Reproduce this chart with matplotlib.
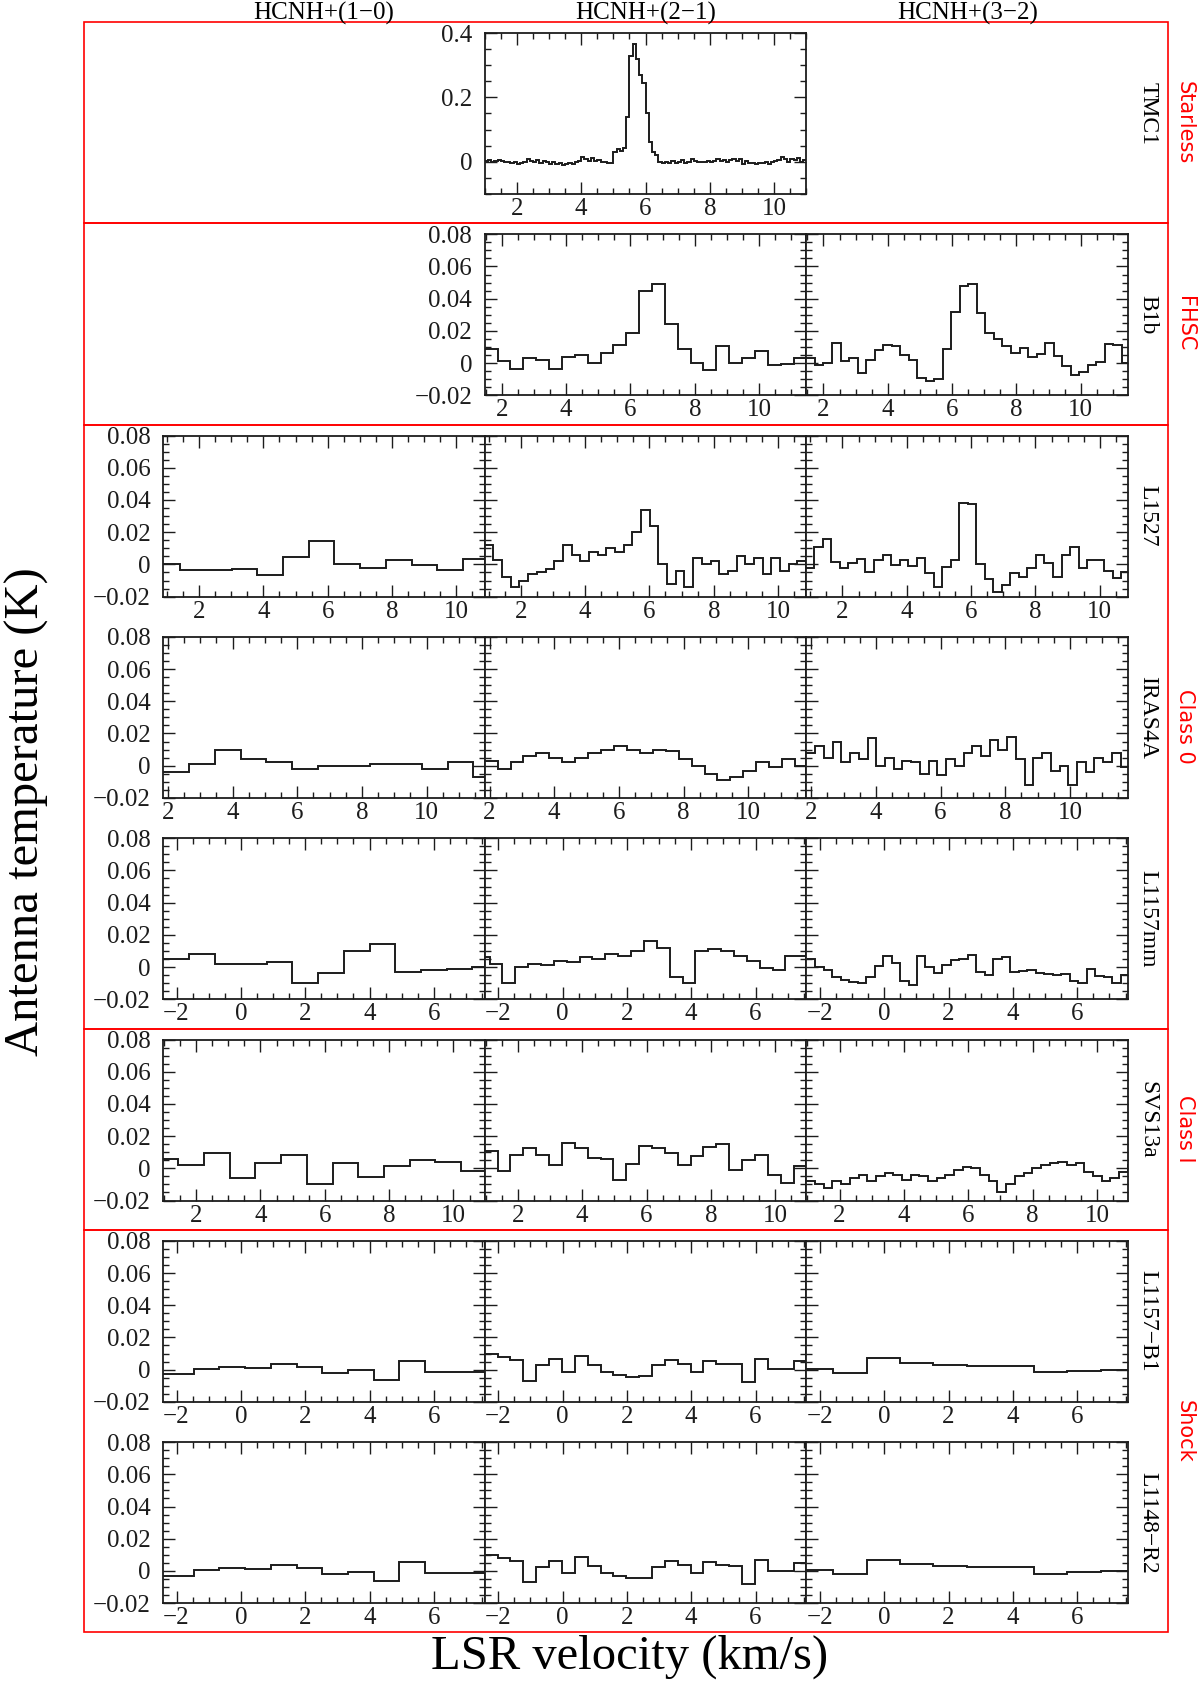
import matplotlib.pyplot as plt
import numpy as np
from matplotlib.patches import Rectangle
from matplotlib.ticker import MultipleLocator, FuncFormatter

plt.rcParams['font.family'] = ['Liberation Serif', 'DejaVu Serif']

W, H = 1200, 1684

lines = ['HCNH+(1\u22120)', 'HCNH+(2\u22121)', 'HCNH+(3\u22122)']
sources = ['TMC1', 'B1b', 'L1527', 'IRAS4A', 'L1157mm', 'SVS13a',
           'L1157\u2212B1', 'L1148\u2212R2']
groups = [('Starless', 0, 1), ('FHSC', 1, 2), ('Class 0', 2, 5),
          ('Class I', 5, 6), ('Shock', 6, 8)]
xlims = [(1.0, 11.0), (1.47, 11.47), (0.88, 10.88), (1.85, 11.8),
         (-2.42, 7.58), (0.97, 10.97), (-2.42, 7.58), (-2.42, 7.58)]

# spectra: first channel edge, channel width (km/s), then T (K) per channel
tmc1_21 = (1.0, 0.1, [
    0.002, 0.005, -0.002, 0.002, 0.007, 0.002, 0.0, -0.002, -0.005, 0.0,
    -0.007, -0.003, 0.0, 0.01, 0.002, -0.002, 0.005, -0.003, 0.003, 0.0,
    -0.007, -0.002, -0.007, -0.003, -0.01, -0.008, -0.005, -0.007, -0.002, 0.003,
    0.015, 0.01, 0.002, 0.012, 0.002, 0.007, 0.0, -0.002, -0.005, -0.003,
    0.03, 0.04, 0.035, 0.042, 0.14, 0.33, 0.365, 0.32, 0.27, 0.245,
    0.15, 0.06, 0.03, 0.02, 0.0, -0.005, 0.0, -0.005, 0.002, -0.005,
    0.0, 0.005, -0.003, 0.0, 0.01, 0.003, 0.0, -0.002, 0.0, 0.003,
    -0.002, 0.002, 0.008, 0.003, 0.005, 0.0, 0.006, 0.01, 0.003, 0.01,
    -0.008, 0.002, -0.005, -0.003, -0.006, -0.005, -0.003, -0.001, -0.006, 0.0,
    0.002, 0.005, 0.015, 0.008, 0.0, 0.01, 0.005, 0.012, 0.0, 0.005])

b1b_21 = (1.47, 0.4, [
    0.0085, 0.001, -0.0035, 0.003, 0.002, -0.0035, 0.004, 0.005, 0.0, 0.0065,
    0.011, 0.019, 0.0445, 0.049, 0.024, 0.0085, 0.0, -0.004, 0.0105, 0.0,
    0.003, 0.0075, -0.001, -0.0005, 0.003])
b1b_32 = (1.47, 0.265, [
    0.003, -0.001, 0.0, 0.0125, 0.001, 0.003, -0.006, 0.002, 0.008, 0.0115,
    0.0105, 0.005, 0.002, -0.0095, -0.011, -0.01, 0.0085, 0.032, 0.048, 0.049,
    0.031, 0.019, 0.015, 0.0105, 0.006, 0.0095, 0.0035, 0.0055, 0.0125, 0.0045,
    -0.002, -0.0075, -0.0055, -0.001, 0.0006, 0.012, 0.011, 0.0])

l1527_10 = (0.61, 0.8, [
    0.0, -0.0035, -0.0033, -0.003, -0.0065, 0.0045, 0.0145, 0.0005, -0.002,
    0.0025, -0.0002, -0.0033, 0.0033])
l1527_21 = (0.88, 0.27, [
    0.012, 0.003, -0.008, -0.014, -0.01, -0.006, -0.005, -0.003, 0.002,
    0.012, 0.006, 0.002, 0.008, 0.006, 0.01, 0.008, 0.012, 0.02, 0.034,
    0.024, 0.0, -0.012, -0.004, -0.014, 0.004, 0.0, 0.002, -0.006, -0.004,
    0.005, 0.0, 0.004, -0.006, 0.004, -0.004, 0.0, 0.002])
l1527_32 = (0.861, 0.265, [
    -0.002, 0.0108, 0.0156, 0.0015, -0.002, 0.0006, 0.0035, -0.005, 0.003, 0.006,
    -0.0004, 0.0027, -0.001, 0.0037, -0.0056, -0.014, -0.0015, 0.0027, 0.0384, 0.0373,
    0.0004, -0.0093, -0.017, -0.0129, -0.0056, -0.0079, -0.0025, 0.0058, 0.001, -0.0079,
    0.0058, 0.011, -0.0025, 0.0027, 0.0027, -0.004, -0.0087, -0.005])

iras4a_10 = (1.85, 0.8, [
    -0.004, 0.001, 0.01, 0.004, 0.002, -0.002, 0.0, 0.0, 0.001, 0.001,
    -0.002, 0.002, -0.007])
iras4a_21 = (1.85, 0.4, [
    0.003, -0.002, 0.002, 0.006, 0.008, 0.005, 0.002, 0.005, 0.008, 0.01,
    0.012, 0.01, 0.008, 0.01, 0.009, 0.004, 0.0, -0.005, -0.009, -0.007,
    -0.003, 0.002, -0.001, 0.004, 0.0])
iras4a_32 = (1.85, 0.27, [
    0.008, 0.012, 0.005, 0.015, 0.002, 0.008, 0.004, 0.017, 0.0, 0.005,
    -0.002, 0.003, 0.002, -0.005, 0.003, -0.006, 0.004, 0.0, 0.008, 0.012,
    0.006, 0.016, 0.01, 0.018, 0.004, -0.012, 0.005, 0.008, -0.003, 0.0,
    -0.012, 0.002, -0.004, 0.005, 0.002, 0.008, -0.001])

l1157mm_10 = (-3.2, 0.8, [
    0.005, 0.005, 0.008, 0.002, 0.002, 0.003, -0.01, -0.004, 0.01, 0.014,
    -0.003, -0.002, -0.001, 0.0])
l1157mm_21 = (-2.67, 0.4, [
    0.006, 0.002, -0.01, 0.0, 0.002, 0.001, 0.004, 0.003, 0.006, 0.005,
    0.008, 0.007, 0.01, 0.016, 0.012, -0.006, -0.01, 0.01, 0.011, 0.01,
    0.007, 0.0035, -0.0006, -0.002, 0.0066, 0.0066])
l1157mm_32 = (-2.414, 0.264, [
    0.005, -0.0002, -0.002, -0.0062, -0.0079, -0.0093, -0.0099, -0.006, 0.0004, 0.0066,
    0.0025, -0.0085, -0.0114, 0.0068, 0.0, -0.0037, 0.0014, 0.0046, 0.005, 0.0072,
    -0.0031, -0.0048, 0.0052, 0.0062, -0.0031, -0.0027, -0.002, -0.0037, -0.0041, -0.0052,
    -0.0043, -0.0085, -0.0099, -0.0012, -0.0058, -0.0064, -0.0099, -0.0052])

svs13a_10 = (-0.16, 0.8, [
    0.006, 0.006, 0.0019, 0.0098, -0.006, 0.0033, 0.0081, -0.0096, 0.0033, -0.0054,
    0.0015, 0.005, 0.004, -0.0019])
svs13a_21 = (0.97, 0.4, [
    0.0106, -0.0017, 0.0081, 0.0123, 0.0083, 0.0019, 0.0158, 0.0127, 0.0065, 0.0056,
    -0.0071, 0.0029, 0.014, 0.0127, 0.0096, 0.0019, 0.0075, 0.0133, 0.0148, -0.0008,
    0.0054, 0.0081, -0.0044, -0.0092, 0.0015])
svs13a_32 = (0.97, 0.27, [
    -0.008, -0.01, -0.012, -0.008, -0.01, -0.006, -0.004, -0.008, -0.005, -0.003,
    -0.004, -0.007, -0.004, -0.005, -0.008, -0.006, -0.004, -0.001, 0.001, 0.0,
    -0.004, -0.008, -0.015, -0.01, -0.005, -0.003, 0.0, 0.002, 0.003, 0.004,
    0.002, 0.003, -0.002, -0.005, -0.008, -0.006, -0.002, 0.002])

l1157b1_10 = (-3.07, 0.8, [
    -0.0029, -0.0029, 0.0004, 0.0016, 0.0012, 0.0035, 0.0016, -0.002, -0.0004, -0.0064,
    0.0055, -0.0014, -0.0014, -0.0014])
l1157b1_21 = (-2.42, 0.4, [
    0.0098, 0.0078, 0.0062, -0.007, 0.0027, 0.0064, -0.0014, 0.0084, 0.0031, -0.0014,
    -0.0031, -0.0045, -0.0041, 0.0027, 0.0062, 0.0037, -0.0014, 0.0053, 0.0037, 0.0033,
    -0.008, 0.0068, 0.0002, 0.0002, 0.0051])
l1157b1_32 = (-2.63, 1.04, [
    0.0005, -0.002, 0.007, 0.004, 0.003, 0.0025, 0.0024, -0.0017, -0.0007, -0.0003])

l1148r2_10 = l1157b1_10
l1148r2_21 = l1157b1_21
l1148r2_32 = l1157b1_32

spectra = [
    [None, tmc1_21, None],
    [None, b1b_21, b1b_32],
    [l1527_10, l1527_21, l1527_32],
    [iras4a_10, iras4a_21, iras4a_32],
    [l1157mm_10, l1157mm_21, l1157mm_32],
    [svs13a_10, svs13a_21, svs13a_32],
    [l1157b1_10, l1157b1_21, l1157b1_32],
    [l1148r2_10, l1148r2_21, l1148r2_32],
]

# layout in pixels
left0, pw = 163, 321.7
top0, ph, pitch = 33, 161, 201.3


def tick_fmt(v, pos):
    if abs(v) < 1e-9:
        return '0'
    return f'{v:g}'.replace('-', '\u2212')


fig = plt.figure(figsize=(W / 100, H / 100), dpi=100)

for r, row in enumerate(spectra):
    first = True
    for c, spec in enumerate(row):
        if spec is None:
            continue
        x = left0 + c * pw
        y = top0 + r * pitch
        ax = fig.add_axes([x / W, 1 - (y + ph) / H, pw / W, ph / H])
        v0, dv, vals = spec
        edges = v0 + dv * np.arange(len(vals) + 1)
        ax.stairs(vals, edges, baseline=None, color='#1c1c1c', lw=1.4)
        ax.set_xlim(*xlims[r])
        if r == 0:
            ax.set_ylim(-0.1, 0.4)
            ax.yaxis.set_major_locator(MultipleLocator(0.2))
            ax.yaxis.set_minor_locator(MultipleLocator(0.05))
        else:
            ax.set_ylim(-0.02, 0.08)
            ax.yaxis.set_major_locator(MultipleLocator(0.02))
            ax.yaxis.set_minor_locator(MultipleLocator(0.005))
        ax.xaxis.set_major_locator(MultipleLocator(2))
        ax.xaxis.set_minor_locator(MultipleLocator(0.5))
        ax.xaxis.set_major_formatter(FuncFormatter(tick_fmt))
        ax.yaxis.set_major_formatter(FuncFormatter(tick_fmt))
        ax.tick_params(which='both', direction='in', top=True, right=True,
                       width=1.0, colors='#1c1c1c', labelsize=18)
        ax.tick_params(which='major', length=8.5)
        ax.tick_params(which='minor', length=4.3)
        ax.tick_params(axis='x', pad=3)
        ax.tick_params(axis='y', pad=9)
        if not first:
            ax.tick_params(axis='y', labelleft=False)
        first = False
        for s in ax.spines.values():
            s.set_linewidth(1.3)
            s.set_color('#1c1c1c')

    # source name on the right
    yc = top0 + r * pitch + ph / 2
    fig.text(1148 / W, 1 - yc / H, sources[r], rotation=-90, fontsize=17,
             ha='center', va='center')

# column headers
for c, name in enumerate(lines):
    fig.text((left0 + c * pw + pw / 2) / W, 1 - 13 / H, name, fontsize=18,
             ha='center', va='center')

# red boxes around the groups
for name, r0, r1 in groups:
    ytop = top0 + r0 * pitch - 11
    ybot = top0 + r1 * pitch - 11
    fig.patches.append(Rectangle((84 / W, 1 - ybot / H), (1168 - 84) / W,
                                 (ybot - ytop) / H, transform=fig.transFigure,
                                 fill=False, edgecolor='red', lw=1.2))
    fig.text(1185 / W, 1 - (ytop + ybot) / 2 / H, name, rotation=-90,
             color='red', fontsize=15, family=['DejaVu Sans'],
             ha='center', va='center')

fig.text(630 / W, 1 - 1657 / H, 'LSR velocity (km/s)', fontsize=35,
         ha='center', va='center')
fig.text(27 / W, 1 - 812 / H, 'Antenna temperature (K)', fontsize=35,
         rotation=90, ha='center', va='center')

fig.savefig('out.png', dpi=100)
